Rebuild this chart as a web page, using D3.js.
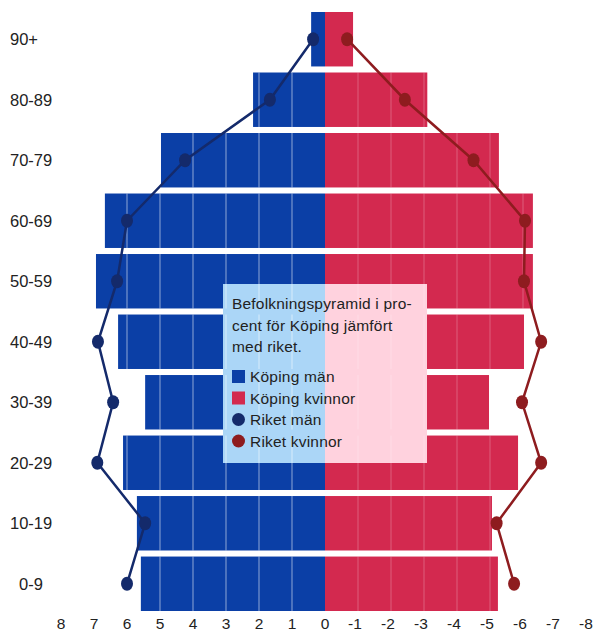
<!DOCTYPE html>
<html><head><meta charset="utf-8">
<script src="https://cdn.jsdelivr.net/npm/d3@7"></script>
<style>body{margin:0;background:#fff;} svg{display:block;font-family:"Liberation Sans",Arial,sans-serif;}</style>
</head><body>
<script>
const ageGroups = ["90+","80-89","70-79","60-69","50-59","40-49","30-39","20-29","10-19","0-9"];
const kopingMan = [0.42,2.18,4.97,6.67,6.94,6.27,5.45,6.12,5.7,5.58];
const kopingKvinnor = [0.85,3.1,5.27,6.3,6.3,6.03,4.97,5.85,5.06,5.24];
const riketMan = [0.36,1.67,4.24,6.0,6.3,6.88,6.42,6.9,5.45,6.0];
const riketKvinnor = [0.67,2.42,4.5,6.06,6.03,6.55,5.97,6.55,5.2,5.73];
const xTicks = [8,7,6,5,4,3,2,1,0,-1,-2,-3,-4,-5,-6,-7,-8];
const legendTitle = ["Befolkningspyramid i pro-","cent för Köping jämfört","med riket."];
const legendItems = ["Köping män","Köping kvinnor","Riket män","Riket kvinnor"];

const W=597,H=634;
const blue="#0b3fa6", red="#d3294f", navy="#142a6b", darkred="#8e1c1f";
const svg=d3.select("body").append("svg").attr("width",W).attr("height",H);

const x=d3.scaleLinear().domain([8,-8]).range([61,589]);
const y=d3.scaleBand().domain(ageGroups).range([12,611]).paddingInner(0.1).paddingOuter(0);

const g=svg.append("g");
g.selectAll("rect.m").data(ageGroups).join("rect")
  .attr("x",(d,i)=>x(kopingMan[i])).attr("width",(d,i)=>x(0)-x(kopingMan[i]))
  .attr("y",d=>y(d)).attr("height",y.bandwidth()).attr("fill",blue);
g.selectAll("rect.w").data(ageGroups).join("rect")
  .attr("x",x(0)).attr("width",(d,i)=>x(-kopingKvinnor[i])-x(0))
  .attr("y",d=>y(d)).attr("height",y.bandwidth()).attr("fill",red);

// legend box (light overlay)
const lb={x0:223,x1:427,y0:284,y1:463};
svg.append("rect").attr("x",lb.x0).attr("y",lb.y0).attr("width",x(0)-lb.x0).attr("height",lb.y1-lb.y0).attr("fill","#abd6f7");
svg.append("rect").attr("x",x(0)).attr("y",lb.y0).attr("width",lb.x1-x(0)).attr("height",lb.y1-lb.y0).attr("fill","#ffd2de");

// gridlines within bars
ageGroups.forEach((a,i)=>{
  d3.range(1,Math.floor(kopingMan[i]-0.05)+1).forEach(v=>{
    svg.append("line").attr("x1",x(v)).attr("x2",x(v)).attr("y1",y(a)).attr("y2",y(a)+y.bandwidth())
      .attr("stroke","#fff").attr("stroke-opacity",0.45).attr("stroke-width",1.2);
  });
  d3.range(1,Math.floor(kopingKvinnor[i]-0.05)+1).forEach(v=>{
    svg.append("line").attr("x1",x(-v)).attr("x2",x(-v)).attr("y1",y(a)).attr("y2",y(a)+y.bandwidth())
      .attr("stroke","#fff").attr("stroke-opacity",0.25).attr("stroke-width",1);
  });
});

// riket lines
const cy=d=>y(d)+y.bandwidth()/2;
const lineM=d3.line().x((d,i)=>x(riketMan[i])).y(d=>cy(d));
const lineW=d3.line().x((d,i)=>x(-riketKvinnor[i])).y(d=>cy(d));
svg.append("path").attr("d",lineM(ageGroups)).attr("fill","none").attr("stroke",navy).attr("stroke-width",2.5);
svg.append("path").attr("d",lineW(ageGroups)).attr("fill","none").attr("stroke",darkred).attr("stroke-width",2.5);
svg.selectAll("ellipse.m").data(ageGroups).join("ellipse")
  .attr("cx",(d,i)=>x(riketMan[i])).attr("cy",d=>cy(d)).attr("rx",6).attr("ry",7).attr("fill",navy);
svg.selectAll("ellipse.w").data(ageGroups).join("ellipse")
  .attr("cx",(d,i)=>x(-riketKvinnor[i])).attr("cy",d=>cy(d)).attr("rx",6).attr("ry",7).attr("fill",darkred);

// y labels
svg.selectAll("text.age").data(ageGroups).join("text")
  .attr("x",d=>d==="0-9"?19:10).attr("y",d=>cy(d)+6).text(d=>d)
  .attr("font-size",16.5).attr("fill","#222");

// x axis labels
svg.selectAll("text.xt").data(xTicks).join("text")
  .attr("x",d=>x(d)+(d<0?-3:0)).attr("y",629).attr("text-anchor","middle").text(d=>d)
  .attr("font-size",15.5).attr("fill","#222");

// legend text
legendTitle.forEach((t,i)=>{
  svg.append("text").attr("x",232).attr("y",309+i*21.5).text(t).attr("font-size",15.5)
    .attr("letter-spacing",0.2).attr("fill","#222");
});
const lcol=[blue,red,navy,darkred];
legendItems.forEach((t,i)=>{
  const by=382+i*21.5;
  if(i<2) svg.append("rect").attr("x",232).attr("y",by-12).attr("width",13).attr("height",13).attr("fill",lcol[i]);
  else svg.append("circle").attr("cx",238.5).attr("cy",by-5.5).attr("r",6.5).attr("fill",lcol[i]);
  svg.append("text").attr("x",250).attr("y",by).text(t).attr("font-size",15.5)
    .attr("letter-spacing",0.2).attr("fill","#222");
});
</script>
</body></html>
